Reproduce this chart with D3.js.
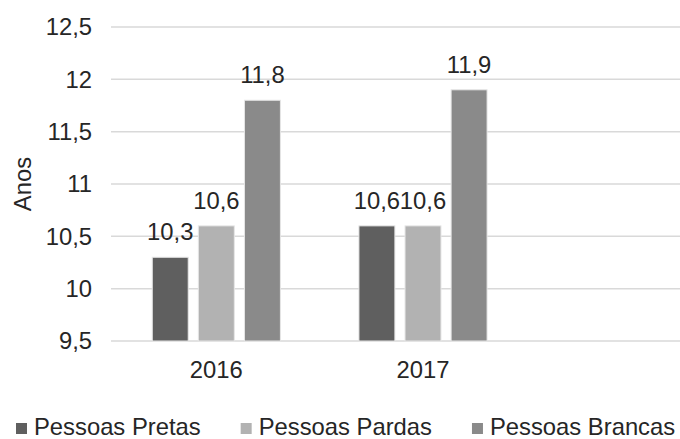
<!DOCTYPE html>
<html>
<head>
<meta charset="utf-8">
<script src="https://cdn.jsdelivr.net/npm/d3@7"></script>
<style>
  body { margin: 0; background: #fff; }
  text { font-family: "Liberation Sans", Arial, sans-serif; fill: #262626; }
  .grid line { stroke: #d9d9d9; stroke-width: 1.5; }
</style>
</head>
<body>
<div id="chart"></div>
<script>
var years = ["2016", "2017", ""]
var series = ["Pessoas Pretas", "Pessoas Pardas", "Pessoas Brancas"]
var pretas = [10.3, 10.6]
var pardas = [10.6, 10.6]
var brancas = [11.8, 11.9]
var yTicks = [9.5, 10, 10.5, 11, 11.5, 12, 12.5]
var colors = ["#5f5f5f", "#b2b2b2", "#8a8a8a"]

var width = 680, height = 439
var fontSize = 23.8

var values = [pretas, pardas, brancas]
var rows = years.slice(0, 2).map(function(y, i) {
  return { year: y, vals: series.map(function(s, j) { return { key: s, idx: j, v: values[j][i] } }) }
})

function fmt(v) { return String(v).replace(".", ",") }

var svg = d3.select("#chart").append("svg")
  .attr("width", width)
  .attr("height", height)

var y = d3.scaleLinear().domain([9.5, 12.5]).range([341, 27])

var x0 = d3.scaleBand().domain(years).range([113, 733])
  .paddingInner(0.38).paddingOuter(0.19)

var x1 = d3.scaleBand().domain(series).range([0, x0.bandwidth()])
  .paddingInner(0.22)

// gridlines
svg.append("g").attr("class", "grid")
  .selectAll("line").data(yTicks).enter().append("line")
  .attr("x1", 111).attr("x2", width)
  .attr("y1", function(d) { return y(d) }).attr("y2", function(d) { return y(d) })

// y tick labels
svg.append("g").selectAll("text").data(yTicks).enter().append("text")
  .attr("x", 92)
  .attr("y", function(d) { return y(d) })
  .attr("dy", "0.35em")
  .attr("text-anchor", "end")
  .style("font-size", fontSize + "px")
  .text(fmt)

// y title
svg.append("text")
  .attr("transform", "translate(31,184) rotate(-90)")
  .attr("text-anchor", "middle")
  .style("font-size", fontSize + "px")
  .text("Anos")

// bars
var groups = svg.selectAll(".grp").data(rows).enter().append("g")
  .attr("class", "grp")
  .attr("transform", function(d) { return "translate(" + x0(d.year) + ",0)" })

groups.selectAll("rect").data(function(d) { return d.vals }).enter().append("rect")
  .attr("x", function(d) { return x1(d.key) })
  .attr("width", x1.bandwidth())
  .attr("y", function(d) { return y(d.v) })
  .attr("height", function(d) { return y(9.5) - y(d.v) })
  .attr("fill", function(d) { return colors[d.idx] })
  .attr("stroke", "#e6e6e6")
  .attr("stroke-width", 1)

groups.selectAll(".lbl").data(function(d) { return d.vals }).enter().append("text")
  .attr("class", "lbl")
  .attr("x", function(d) { return x1(d.key) + x1.bandwidth() / 2 })
  .attr("y", function(d) { return y(d.v) - 17 })
  .attr("text-anchor", "middle")
  .style("font-size", fontSize + "px")
  .text(function(d) { return fmt(d.v) })

// x labels
svg.append("g").selectAll("text").data(years.slice(0, 2)).enter().append("text")
  .attr("x", function(d) { return x0(d) + x0.bandwidth() / 2 })
  .attr("y", 378)
  .attr("text-anchor", "middle")
  .style("font-size", fontSize + "px")
  .text(function(d) { return d })

// legend
var legend = svg.append("g")
var lx = 16
series.forEach(function(s, i) {
  legend.append("rect")
    .attr("x", lx).attr("y", 423)
    .attr("width", 11).attr("height", 11)
    .attr("fill", colors[i])
  var t = legend.append("text")
    .attr("x", lx + 18).attr("y", 435)
    .style("font-size", fontSize + "px")
    .text(s)
  lx = lx + 18 + t.node().getComputedTextLength() + 40
})
</script>
</body>
</html>
